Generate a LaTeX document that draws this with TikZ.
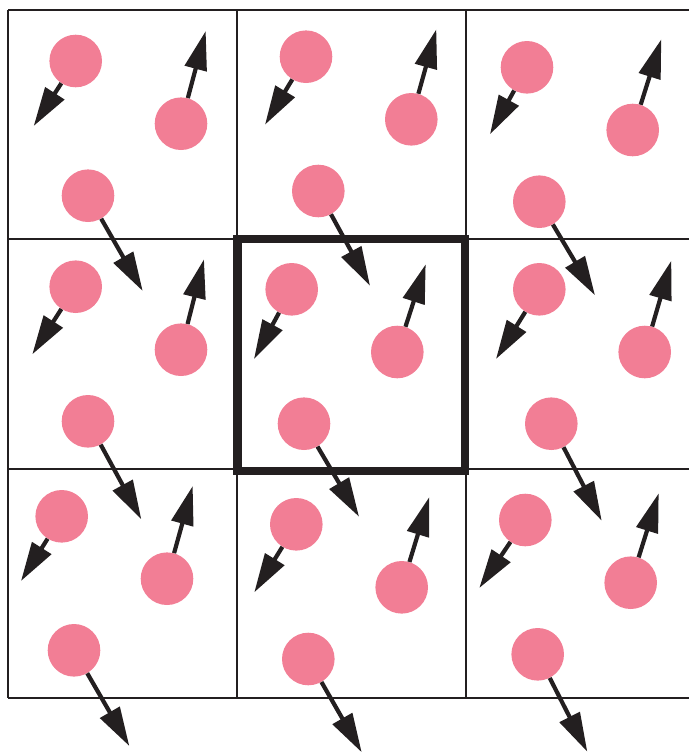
\documentclass[tikz,border=0pt]{standalone}
\usetikzlibrary{arrows.meta}
\definecolor{ink}{RGB}{35,31,32}
\definecolor{pinkball}{RGB}{242,126,149}
\tikzset{
  gridline/.style={draw=ink, line width=2pt},
  boldbox/.style={draw=ink, line width=8.5pt},
  ball/.style={circle, fill=pinkball, draw=none, minimum size=52.6pt, inner sep=0pt},
  vec/.style={draw=ink, line width=4.2pt, -{Triangle[length=39pt 0,width=22pt 0]}}
}
\begin{document}
\begin{tikzpicture}[x=1pt,y=-1pt]
\useasboundingbox (0,0) rectangle (689,753);
% grid
\foreach \yy in {10,238.5,469,698} \draw[gridline] (8,\yy) -- (689,\yy);
\foreach \xx in {8,237,465.5} \draw[gridline] (\xx,10) -- (\xx,698);
% central cell
\draw[boldbox] (237.5,239) rectangle (465,471);
% particles: name/center/tip
\foreach \n/\cx/\cy/\tx/\ty in {
  a00/75.7/61/33.7/126, b00/181/123.7/205.7/31, c00/88/195.7/142.7/291,
  a10/306/56.7/265/124.7, b10/411.3/119.3/436.3/29.3, c10/318.3/191/370/285.7,
  a20/527/67.3/490/134.3, b20/632.7/130/661.3/39.3, c20/539.3/201.7/595/295.3,
  a01/75.7/286.7/32.3/354.3, b01/181/349.7/204/259.3, c01/88/421.3/141.3/519.3,
  a11/291.7/289.3/254/359, b11/397.3/352/425.7/264.3, c11/304/423.7/359/516.7,
  a21/539.3/289.3/496/359, b21/644.7/352/671.3/260.7, c21/551.3/423.7/601.7/520.7,
  a02/61.7/516.3/21/581, b02/167/578.7/192.7/486, c02/74/650.3/129.3/746,
  a12/296.3/524.3/254.3/592.3, b12/401.7/587.3/429.3/497, c12/308.3/659/361.7/752.3,
  a22/525.3/520/479.3/588, b22/630.7/582.7/658.7/493.3, c22/537.7/654.3/587.3/751.7}
{
  \node[ball] (\n) at (\cx,\cy) {};
  \coordinate (t\n) at (\tx,\ty);
  \draw[vec] (\n) -- (t\n);
}
\end{tikzpicture}
\end{document}
